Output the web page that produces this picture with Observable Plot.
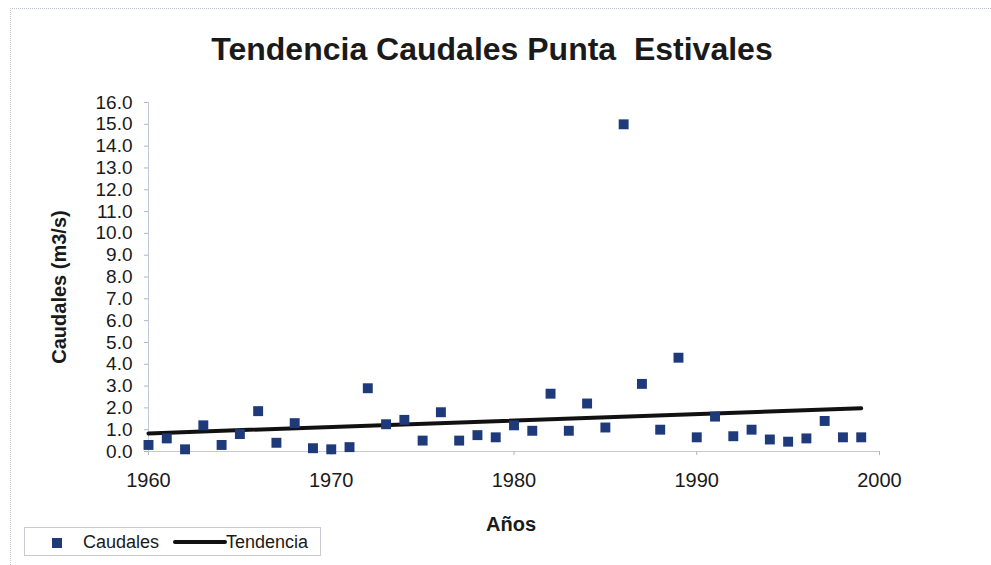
<!DOCTYPE html>
<html>
<head>
<meta charset="utf-8">
<script src="https://cdn.jsdelivr.net/npm/d3@7"></script>
<script src="https://cdn.jsdelivr.net/npm/@observablehq/plot@0.6"></script>
<style>
  html, body { margin: 0; padding: 0; background: #fff; }
  #wrap { position: relative; width: 991px; height: 565px; overflow: hidden;
          font-family: "Liberation Sans", Arial, Helvetica, sans-serif; color: #1a1a1a; }
  #frame { position: absolute; left: 10px; top: 8px; width: 990px; height: 600px;
           border-left: 1px dotted #c4c4cc; border-top: 1px dotted #b8bccc; }
  .abs { position: absolute; white-space: pre; }
  #title { left: 0; width: 984px; top: 31px; text-align: center; font-weight: bold; font-size: 32px; }
  #ylab { left: 59px; top: 287px; transform: translate(-50%, -50%) rotate(-90deg); font-weight: bold; font-size: 20px; }
  #xlab { left: 511px; top: 524px; transform: translate(-50%, -50%); font-weight: bold; font-size: 20px; }
  #legend { left: 24px; top: 527px; width: 297px; height: 29px; border: 1px solid #c9c9cf; box-sizing: border-box; }
  #legend .sq { position: absolute; left: 27px; top: 10px; width: 10px; height: 10px; background: #1f3a7a; }
  #legend .t1 { position: absolute; left: 58px; top: 4px; font-size: 18px; }
  #legend .ln { position: absolute; left: 148px; top: 12px; width: 54px; height: 4px; background: #111; border-radius: 2px; }
  #legend .t2 { position: absolute; left: 201px; top: 4px; font-size: 18px; }
</style>
</head>
<body>
<div id="wrap">
  <div id="frame"></div>
  <div id="chart"></div>
  <div id="title" class="abs">Tendencia Caudales Punta  Estivales</div>
  <div id="ylab" class="abs">Caudales (m3/s)</div>
  <div id="xlab" class="abs">Años</div>
  <div id="legend" class="abs">
    <div class="sq"></div><div class="t1">Caudales</div>
    <div class="ln"></div><div class="t2">Tendencia</div>
  </div>
</div>
<script>
const years = [1960,1961,1962,1963,1964,1965,1966,1967,1968,1969,
               1970,1971,1972,1973,1974,1975,1976,1977,1978,1979,
               1980,1981,1982,1983,1984,1985,1986,1987,1988,1989,
               1990,1991,1992,1993,1994,1995,1996,1997,1998,1999];
const caudales = [0.3,0.6,0.1,1.2,0.3,0.8,1.85,0.4,1.3,0.15,
                  0.1,0.2,2.9,1.25,1.45,0.5,1.8,0.5,0.75,0.65,
                  1.2,0.95,2.65,0.95,2.2,1.1,15.0,3.1,1.0,4.3,
                  0.65,1.6,0.7,1.0,0.55,0.45,0.6,1.4,0.65,0.65];
const trendYears = [1960, 1999];
const trendValues = [0.83, 1.98];
const yTicks = [0,1,2,3,4,5,6,7,8,9,10,11,12,13,14,15,16];
const xTicks = [1960,1970,1980,1990,2000];

const points = years.map((y, i) => ({year: y, value: caudales[i]}));
const trend = trendYears.map((y, i) => ({year: y, value: trendValues[i]}));

const chart = Plot.plot({
  width: 991,
  height: 565,
  marginLeft: 148,
  marginRight: 112,
  marginTop: 102,
  marginBottom: 114,
  style: {fontFamily: '"Liberation Sans", Arial, sans-serif', fontSize: "19px", color: "#1a1a1a", background: "transparent"},
  x: {domain: [1960, 2000]},
  y: {domain: [0, 16]},
  marks: [
    Plot.ruleX([1960], {stroke: "#c3c8da", strokeWidth: 1}),
    Plot.ruleY([0], {stroke: "#c3c8da", strokeWidth: 1}),
    Plot.axisY({ticks: yTicks, tickFormat: d => d.toFixed(1), tickSize: 4, tickPadding: 12, stroke: "#b0b4c4", label: null, fontSize: 19}),
    Plot.axisX({ticks: xTicks, tickFormat: d => String(d), tickSize: 4, tickPadding: 17, stroke: "#b0b4c4", label: null, fontSize: 20}),
    Plot.line(trend, {x: "year", y: "value", stroke: "#111", strokeWidth: 4, strokeLinecap: "round"}),
    Plot.dot(points, {x: "year", y: "value", symbol: "square", r: 5.6, fill: "#1f3a7a", stroke: "none"})
  ]
});
document.getElementById("chart").appendChild(chart);
</script>
</body>
</html>
